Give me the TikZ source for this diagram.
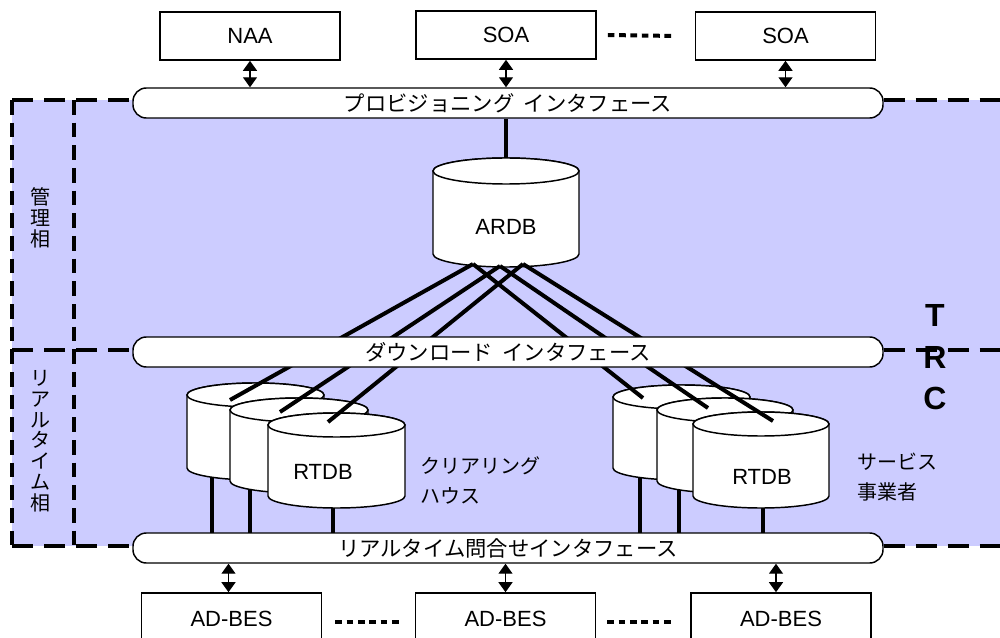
\documentclass[tikz,border=0pt]{standalone}
\usepackage{fontspec}
\setmainfont{Liberation Sans}
\newfontfamily\jp{Noto Sans CJK JP}
\usetikzlibrary{arrows.meta,calc}
\definecolor{zone}{RGB}{204,204,255}
\newcommand\dbcyl[6]{% name, cx, ytop, ybot, rx, ry
  \filldraw[cylst] ({#2-#5},#3) -- ({#2-#5},#4)
     arc[start angle=180,end angle=0,x radius=#5,y radius=#6]
     -- ({#2+#5},#3)
     arc[start angle=0,end angle=-180,x radius=#5,y radius=#6] -- cycle;
  \draw[cylst] (#2,#3) ellipse[x radius=#5,y radius=#6];
  \coordinate (#1) at (#2,{(#3+#4)/2});
  \coordinate (#1top) at (#2,{#3-#6});
}
\begin{document}
\begin{tikzpicture}[x=0.75pt,y=-0.75pt,
  box/.style={draw,line width=1.2pt,fill=white,minimum width=135pt,minimum height=36pt,inner sep=0pt,font=\fontsize{16.5}{20}\selectfont},
  bar/.style={draw,line width=1.1pt,fill=white,rounded corners=10pt,minimum width=562.5pt,minimum height=22.5pt,inner sep=0pt,font=\jp\fontsize{16}{18}\selectfont},
  cylst/.style={line width=1.1pt,fill=white},
  arr/.style={line width=1pt,{Triangle[width=10.5pt,length=7.5pt]}-{Triangle[width=10.5pt,length=7.5pt]}},
  conn/.style={line width=3pt},
  leg/.style={line width=3.6pt},
  hdash/.style={line width=3.4pt,dash pattern=on 16pt off 8pt},
  vdash/.style={line width=3.4pt,dash pattern=on 11pt off 6pt},
  dotline/.style={line width=3pt,dash pattern=on 5pt off 3.5pt},
  lbl/.style={inner sep=0pt,font=\fontsize{16.5}{20}\selectfont},
  jlbl/.style={inner sep=0pt,font=\jp\fontsize{15}{22.5}\selectfont,align=left},
  vlbl/.style={inner sep=0pt,font=\jp\fontsize{15}{15.6}\selectfont,align=center},
  trc/.style={inner sep=0pt,font=\bfseries\fontsize{24}{24}\selectfont}]
\useasboundingbox (0,0) rectangle (1000,638);

% zone background
\fill[zone] (12,100) rectangle (1000,546);

% interface bar positions
\path (508,103) coordinate (provc) (508,352) coordinate (dlc) (508,548) coordinate (rtc);

% top boxes
\node[box] (naa) at (250,36) {NAA};
\node[box] (soa1) at (506,35) {SOA};
\node[box] (soa2) at (785.5,36) {SOA};
\draw[dotline] ($(soa1.east)+(11,0)$) -- ($(soa2.west)+(-19,0)$);

% bottom boxes
\node[box,minimum height=39pt] (ad1) at (231.5,619) {AD-BES};
\node[box,minimum height=39pt] (ad2) at (505.5,619) {AD-BES};
\node[box,minimum height=39pt] (ad3) at (781,619) {AD-BES};
\draw[dotline] ($(ad1.east)+(13,3)$) -- ($(ad2.west)+(-16,3)$);
\draw[dotline] ($(ad2.east)+(11,3)$) -- ($(ad3.west)+(-15,3)$);

% ARDB
\dbcyl{ardb}{506}{171}{254}{73}{13}
\node[lbl] (ardbt) at (506,227) {ARDB};

% legs (drawn under the cylinders)
\coordinate (lg1) at (212,450);
\coordinate (lg2) at (250,460);
\coordinate (lg3) at (333,480);
\coordinate (rg1) at (640,450);
\coordinate (rg2) at (679,470);
\coordinate (rg3) at (763,480);
\foreach \g in {lg1,lg2,lg3,rg1,rg2,rg3}
  \draw[leg] (\g) -- (\g |- 0,534);

% ARDB line start points
\coordinate (a1) at (473,264);
\coordinate (a2) at (500,266);
\coordinate (a3) at (523,264);

% clearing house cylinders
\dbcyl{cl1}{255.5}{395}{468}{68.5}{12}
\coordinate (l1) at (230,400);
\draw[conn] (a1) -- (l1);
\dbcyl{cl2}{299}{410}{481}{69}{12}
\coordinate (l2) at (280,412);
\draw[conn] (a2) -- (l2);
\dbcyl{cl3}{336.5}{425}{496}{68.5}{12}
\coordinate (l3) at (328,422);
\draw[conn] (a3) -- (l3);
\node[lbl] (rtdbl) at (323,472) {RTDB};

% service provider cylinders
\dbcyl{sp1}{681.5}{397}{468}{68.5}{12}
\coordinate (r1) at (643,398);
\draw[conn] (a1) -- (r1);
\dbcyl{sp2}{725}{410}{481}{68}{12}
\coordinate (r2) at (708,408);
\draw[conn] (a2) -- (r2);
\dbcyl{sp3}{761}{424}{496}{68}{12}
\coordinate (r3) at (773,421);
\draw[conn] (a3) -- (r3);
\node[lbl] (rtdbr) at (762,477) {RTDB};

% labels
\node[jlbl,anchor=west] (chl) at (420,480) {クリアリング\\ハウス};
\node[jlbl,anchor=west] (spl) at (857,477) {サービス\\事業者};
\node[vlbl] (kanri) at (40,218) {管\\理\\相};
\node[vlbl] (rt) at (40,441) {リ\\ア\\ル\\タ\\イ\\ム\\相};

% interface bars
\node[bar] (prov) at (provc) {プロビジョニング\hspace{0.45em}インタフェース};
\node[bar] (dl) at (dlc) {ダウンロード\hspace{0.45em}インタフェース};
\node[bar] (rtq) at (rtc) {リアルタイム問合せインタフェース};

% ARDB to provisioning
\draw[leg] (prov.south -| ardbtop) -- (ardbtop);

% dashed zone borders
\coordinate (ztl) at (12,100);
\coordinate (ztm) at (12,350);
\coordinate (zbl) at (12,546);
\coordinate (zv1) at (74,100);
\coordinate (zv2) at (74,546);
\coordinate (ztr) at (1000,100);
\coordinate (zmr) at (1000,350);
\coordinate (zbr) at (1000,546);
\draw[hdash] (ztl) -- (ztl -| prov.west);
\draw[hdash] (ztm) -- (ztm -| dl.west);
\draw[hdash] (zbl) -- (zbl -| rtq.west);
\draw[hdash] (ztr -| prov.east) -- (ztr);
\draw[hdash] (zmr -| dl.east) -- (zmr);
\draw[hdash] (zbr -| rtq.east) -- (zbr);
\draw[vdash] (ztl) -- (zbl);
\draw[vdash] (zv1) -- (zv2);

% TRC
\node[trc] (tt) at (935,315) {T};
\node[trc] (tr) at (935,357) {R};
\node[trc] (tc) at (935,398) {C};

% arrows
\draw[arr] (naa.south) -- (naa.south |- prov.north);
\draw[arr] (soa1.south) -- (soa1.south |- prov.north);
\draw[arr] (soa2.south) -- (soa2.south |- prov.north);
\draw[arr] ($(ad1.north)+(-3,0)$) -- ($(ad1.north |- rtq.south)+(-3,0)$);
\draw[arr] (ad2.north) -- (ad2.north |- rtq.south);
\draw[arr] ($(ad3.north)+(-5,0)$) -- ($(ad3.north |- rtq.south)+(-5,0)$);
\end{tikzpicture}
\end{document}
